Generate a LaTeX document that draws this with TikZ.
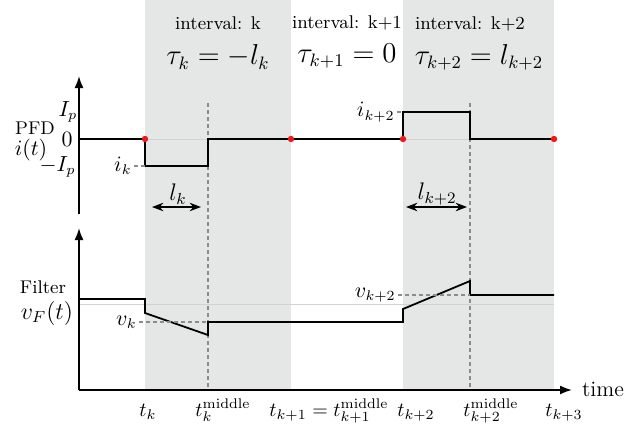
\documentclass[tikz,border=0pt]{standalone}
\usetikzlibrary{arrows.meta,positioning}
\definecolor{bandgray}{RGB}{229,231,231}
\definecolor{faintgray}{RGB}{210,210,210}
\definecolor{guidegray}{RGB}{140,140,140}
\definecolor{dotred}{RGB}{235,25,25}

\begin{document}
\begin{tikzpicture}[x=0.5pt, y=-0.5pt, >=Stealth, font=\fontsize{9.2}{11}\selectfont,
  sig/.style={line width=0.9pt, line join=miter},
  axis/.style={line width=0.9pt, -{Latex[length=6pt,width=4.5pt]}},
  guide/.style={guidegray, line width=0.6pt, dash pattern=on 2pt off 1.5pt},
  lbl/.style={inner sep=1pt, font=\fontsize{10.5}{12}\selectfont},
  tlbl/.style={inner sep=0pt, anchor=base, font=\fontsize{10}{12}\selectfont}]
  \useasboundingbox (0,0) rectangle (640,429);
  % intervals k and k+2
  \fill[bandgray] (145,0) rectangle (291,390);
  \fill[bandgray] (403,0) rectangle (554,390);
  \node (intk)  at (218,23) {interval: k};
  \node (intk1) at (347,23) {interval: k+1};
  \node (intk2) at (470,24) {interval: k+2};
  \node[font=\fontsize{13.5}{15}\selectfont] (tauk)  at (218,57) {$\tau_k=-l_k$};
  \node[font=\fontsize{13.5}{15}\selectfont] (tauk1) at (347,56) {$\tau_{k+1}=0$};
  \node[font=\fontsize{13.5}{15}\selectfont] (tauk2) at (479,57) {$\tau_{k+2}=l_{k+2}$};
  % reference levels
  \draw[faintgray, line width=0.5pt] (79,139) -- (554,139);
  \draw[faintgray, line width=0.5pt] (79,304) -- (554,304);
  % middle instants
  \coordinate (mk) at (208,103);
  \coordinate (mk2) at (470,103);
  \draw[guide] (mk) -- (208,390);
  \draw[guide] (mk2) -- (470,390);
  % PFD current
  \draw[axis] (79,214) -- (79,76);
  \node[lbl] (ip)  at (68,112) {$I_p$};
  \node[lbl] (zero) at (67,139) {$0$};
  \node[lbl, anchor=east] (mip) at (78,167) {$-I_p$};
  \node (pfd) at (35,128) {PFD};
  \node[lbl] (it) at (31,150) {$i(t)$};
  \draw[sig] (79,139) -- (145,139) -- (145,166) -- (208,166) -- (208,139)
    -- (403,139) -- (403,112) -- (470,112) -- (470,139) -- (554,139);
  \node[lbl, anchor=east] (ik) at (134,166) {$i_k$};
  \node[lbl, anchor=east] (ik2) at (397,112) {$i_{k+2}$};
  \draw[guide] (ik.east) -- (145,166);
  \draw[guide] (ik2.east) -- (403,112);
  \foreach \x in {145,291,403,554}
    \fill[dotred] (\x,139) circle (1.6pt);
  % pulse widths
  \coordinate (lka) at (152,207);
  \coordinate (lkb) at (201,207);
  \coordinate (lk2a) at (406,207);
  \coordinate (lk2b) at (467,207);
  \draw[<->, line width=0.6pt] (lka) -- (lkb);
  \draw[<->, line width=0.6pt] (lk2a) -- (lk2b);
  \node[lbl, font=\fontsize{11.5}{13}\selectfont] (lk) at (178,194) {$l_k$};
  \node[lbl, font=\fontsize{11.5}{13}\selectfont] (lk2) at (437,194) {$l_{k+2}$};
  % filter voltage
  \draw[axis] (79,390) -- (79,228);
  \draw[axis] (79,390) -- (572,390);
  \node (filt) at (43,287) {Filter};
  \node[lbl, font=\fontsize{12}{14}\selectfont] (vf) at (47,313) {$v_F(t)$};
  \draw[sig] (79,299) -- (145,299) -- (145,313) -- (208,335) -- (208,322)
    -- (403,322) -- (403,309) -- (470,281) -- (470,295) -- (554,295);
  \node[lbl, anchor=east] (vk) at (139,322) {$v_k$};
  \node[lbl, anchor=east] (vk2) at (398,295) {$v_{k+2}$};
  \draw[guide] (vk.east) -- (208,322);
  \draw[guide] (vk2.east) -- (470,295);
  % time axis labels
  \node[font=\fontsize{11}{13}\selectfont] (time) at (603,389) {time};
  \node[tlbl] (tk)   at (148,416) {$t_k$};
  \node[tlbl] (tkm)  at (223,416) {$t_k^{\mathrm{middle}}$};
  \node[tlbl] (tk1)  at (329,416) {$t_{k+1}=t_{k+1}^{\mathrm{middle}}$};
  \node[tlbl] (tk2)  at (416,416) {$t_{k+2}$};
  \node[tlbl] (tk2m) at (491,416) {$t_{k+2}^{\mathrm{middle}}$};
  \node[tlbl] (tk3)  at (564,416) {$t_{k+3}$};
\end{tikzpicture}
\end{document}
